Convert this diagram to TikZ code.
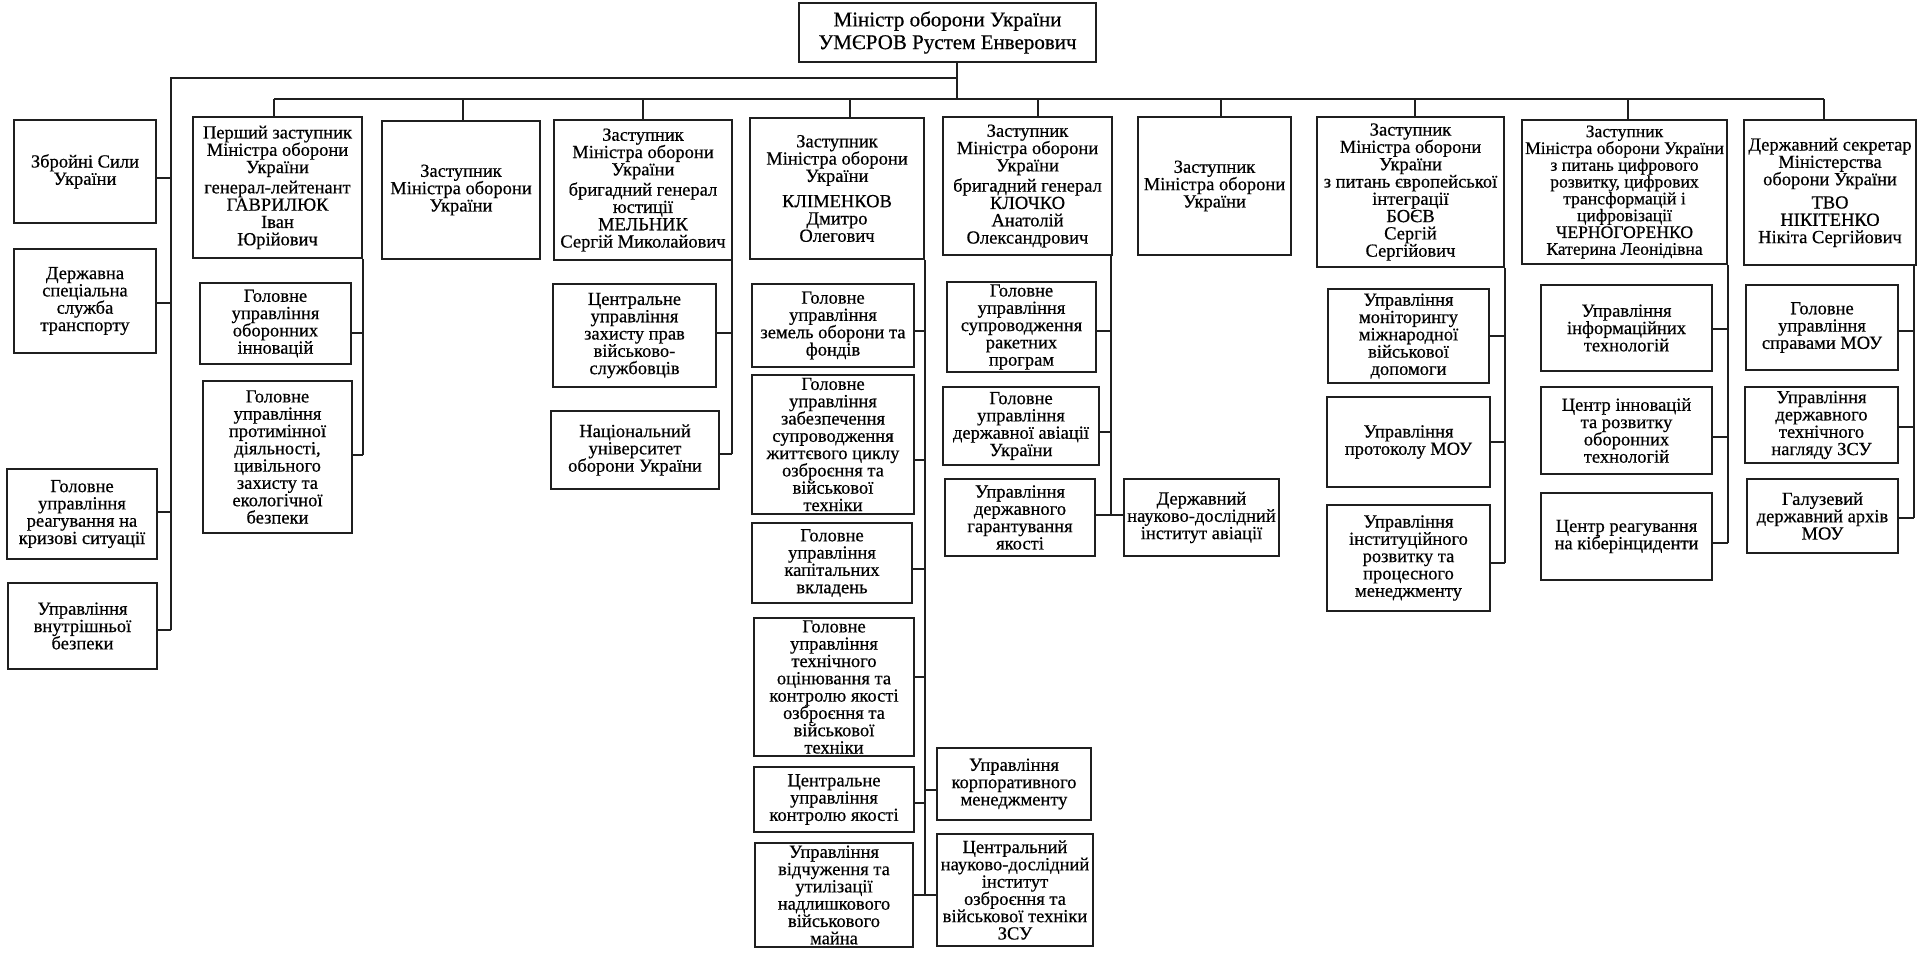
\documentclass[tikz,border=0pt]{standalone}
\usepackage{fontspec}
\setmainfont{Liberation Serif}[BoldFont={Liberation Serif},BoldFeatures={FakeBold=0.5}]
\begin{document}
\setlength{\lineskiplimit}{-40pt}%
\begin{tikzpicture}[x=1pt,y=-1pt,
  box/.style={draw=black!88, line width=1.5pt, align=center, inner sep=0pt,
    font=\fontsize{18.5}{17.3}\selectfont\bfseries},
  bigbox/.style={box, font=\fontsize{21}{22.7}\selectfont\bfseries},
  smallbox/.style={box, font=\fontsize{17.6}{16.8}\selectfont\bfseries},
  ln/.style={draw=black!88, line width=1.5pt}]
\useasboundingbox (0,0) rectangle (1920,953);

% ---------- top ----------
\node[bigbox, minimum width=297pt, minimum height=59pt] (min) at (947.5,32.5) {Міністр оборони України\\УМЄРОВ Рустем Енверович};

% ---------- left column ----------
\node[box, minimum width=142pt, minimum height=103pt] (zsu) at (85,171.5) {Збройні Сили\\України};
\node[box, minimum width=142pt, minimum height=104pt] (dsst) at (85,301) {Державна\\спеціальна\\служба\\транспорту};
\node[box, minimum width=150pt, minimum height=90pt] (kriz) at (82,514) {Головне\\управління\\реагування на\\кризові ситуації};
\node[box, minimum width=149pt, minimum height=86pt] (vnb) at (82.5,626) {Управління\\внутрішньої\\безпеки};

% ---------- deputies ----------
\node[box, minimum width=169pt, minimum height=141pt] (gavr) at (277.5,187.5) {Перший заступник\\Міністра оборони\\України\\[3pt]генерал-лейтенант\\ГАВРИЛЮК\\Іван\\Юрійович};
\node[box, minimum width=158pt, minimum height=138pt] (zast2) at (461,190) {Заступник\\Міністра оборони\\України};
\node[box, minimum width=178pt, minimum height=140pt] (meln) at (643,190) {Заступник\\Міністра оборони\\України\\[3pt]бригадний генерал\\юстиції\\МЕЛЬНИК\\Сергій Миколайович};
\node[box, minimum width=174pt, minimum height=141pt] (klim) at (837,188.5) {Заступник\\Міністра оборони\\України\\[8pt]КЛІМЕНКОВ\\Дмитро\\Олегович};
\node[box, minimum width=169pt, minimum height=138pt] (kloch) at (1027.5,186) {Заступник\\Міністра оборони\\України\\[3pt]бригадний генерал\\КЛОЧКО\\Анатолій\\Олександрович};
\node[box, minimum width=153pt, minimum height=138pt] (zast7) at (1214.5,186) {Заступник\\Міністра оборони\\України};
\node[box, minimum width=187pt, minimum height=150pt] (boev) at (1410.5,192) {Заступник\\Міністра оборони\\України\\з питань європейської\\інтеграції\\БОЄВ\\Сергій\\Сергійович};
\node[smallbox, minimum width=205pt, minimum height=144pt] (chern) at (1624.5,192) {Заступник\\Міністра оборони України\\з питань цифрового\\розвитку, цифрових\\трансформацій і\\цифровізації\\ЧЕРНОГОРЕНКО\\Катерина Леонідівна};
\node[box, minimum width=172pt, minimum height=145pt] (derzh) at (1830,192.5) {Державний секретар\\Міністерства\\оборони України\\[6pt]ТВО\\НІКІТЕНКО\\Нікіта Сергійович};

% ---------- Гаврилюк ----------
\node[box, minimum width=151pt, minimum height=81pt] (innov) at (275.5,323.5) {Головне\\управління\\оборонних\\інновацій};
\node[box, minimum width=149pt, minimum height=152pt] (protym) at (277.5,457) {Головне\\управління\\протимінної\\діяльності,\\цивільного\\захисту та\\екологічної\\безпеки};

% ---------- Мельник ----------
\node[box, minimum width=163pt, minimum height=103pt] (zpv) at (634.5,335.5) {Центральне\\управління\\захисту прав\\військово-\\службовців};
\node[box, minimum width=168pt, minimum height=78pt] (nuou) at (635,450) {Національний\\університет\\оборони України};

% ---------- Кліменков ----------
\node[box, minimum width=162pt, minimum height=83pt] (zem) at (833,325.5) {Головне\\управління\\земель оборони та\\фондів};
\node[box, minimum width=162pt, minimum height=139pt] (zabezp) at (833,444.5) {Головне\\управління\\забезпечення\\супроводження\\життєвого циклу\\озброєння та\\військової\\техніки};
\node[box, minimum width=160pt, minimum height=80pt] (kap) at (832,563) {Головне\\управління\\капітальних\\вкладень};
\node[box, minimum width=160pt, minimum height=138pt] (tekh) at (834,687) {Головне\\управління\\технічного\\оцінювання та\\контролю якості\\озброєння та\\військової\\техніки};
\node[box, minimum width=160pt, minimum height=65pt] (cuky) at (834,799.5) {Центральне\\управління\\контролю якості};
\node[box, minimum width=158pt, minimum height=104pt] (vidch) at (834,895) {Управління\\відчуження та\\утилізації\\надлишкового\\військового\\майна};
\node[box, minimum width=154pt, minimum height=72pt] (korp) at (1014,784) {Управління\\корпоративного\\менеджменту};
\node[box, minimum width=156pt, minimum height=112pt] (cndi) at (1015,890) {Центральний\\науково-дослідний\\інститут\\озброєння та\\військової техніки\\ЗСУ};

% ---------- Клочко ----------
\node[box, minimum width=149pt, minimum height=90pt] (raket) at (1021.5,327) {Головне\\управління\\супроводження\\ракетних\\програм};
\node[box, minimum width=156pt, minimum height=78pt] (dav) at (1021,426) {Головне\\управління\\державної авіації\\України};
\node[box, minimum width=150pt, minimum height=77pt] (gar) at (1020,517.5) {Управління\\державного\\гарантування\\якості};
\node[box, minimum width=155pt, minimum height=77pt] (ndiav) at (1201.5,517.5) {Державний\\науково-дослідний\\інститут авіації};

% ---------- Боєв ----------
\node[box, minimum width=161pt, minimum height=94pt] (monit) at (1408.5,336) {Управління\\моніторингу\\міжнародної\\військової\\допомоги};
\node[box, minimum width=163pt, minimum height=90pt] (prot) at (1408.5,442) {Управління\\протоколу МОУ};
\node[box, minimum width=163pt, minimum height=106pt] (inst) at (1408.5,558) {Управління\\інституційного\\розвитку та\\процесного\\менеджменту};

% ---------- Черногоренко ----------
\node[box, minimum width=171pt, minimum height=86pt] (infot) at (1626.5,328) {Управління\\інформаційних\\технологій};
\node[box, minimum width=171pt, minimum height=87pt] (cinnov) at (1626.5,430.5) {Центр інновацій\\та розвитку\\оборонних\\технологій};
\node[box, minimum width=171pt, minimum height=87pt] (ciber) at (1626.5,536.5) {Центр реагування\\на кіберінциденти};

% ---------- Нікітенко ----------
\node[box, minimum width=152pt, minimum height=85pt] (sprav) at (1822,327.5) {Головне\\управління\\справами МОУ};
\node[box, minimum width=153pt, minimum height=76pt] (nagl) at (1821.5,425) {Управління\\державного\\технічного\\нагляду ЗСУ};
\node[box, minimum width=151pt, minimum height=74pt] (arkh) at (1822.5,516) {Галузевий\\державний архів\\МОУ};

% ---------- main lines ----------
\coordinate (hub) at (957,99);
\coordinate (ltop) at (171,78);
\draw[ln] (min.south -| hub) -- (hub);
\draw[ln] (hub |- ltop) -- (ltop) -- ([yshift=-4pt]vnb.east -| ltop);
\draw[ln] ([xshift=-3.5pt]gavr.north |- hub) -- ([xshift=-6pt]derzh.north |- hub);

% left column branches
\draw[ln] ([yshift=-6.5pt]zsu.east) -- ([yshift=-6.5pt]zsu.east -| ltop);
\draw[ln] ([yshift=-2pt]dsst.east) -- ([yshift=-2pt]dsst.east -| ltop);
\draw[ln] ([yshift=2pt]kriz.east) -- ([yshift=2pt]kriz.east -| ltop);
\draw[ln] ([yshift=-4pt]vnb.east) -- ([yshift=-4pt]vnb.east -| ltop);

% stubs to deputies
\draw[ln] ([xshift=-3.5pt]gavr.north) -- ([xshift=-3.5pt]gavr.north |- hub);
\draw[ln] ([xshift=2pt]zast2.north) -- ([xshift=2pt]zast2.north |- hub);
\draw[ln] (meln.north) -- (meln.north |- hub);
\draw[ln] ([xshift=13pt]klim.north) -- ([xshift=13pt]klim.north |- hub);
\draw[ln] ([xshift=10.5pt]kloch.north) -- ([xshift=10.5pt]kloch.north |- hub);
\draw[ln] ([xshift=6.5pt]zast7.north) -- ([xshift=6.5pt]zast7.north |- hub);
\draw[ln] ([xshift=4.5pt]boev.north) -- ([xshift=4.5pt]boev.north |- hub);
\draw[ln] ([xshift=3.5pt]chern.north) -- ([xshift=3.5pt]chern.north |- hub);
\draw[ln] ([xshift=-6pt]derzh.north) -- ([xshift=-6pt]derzh.north |- hub);

% Гаврилюк bus
\draw[ln] (gavr.south east) -- ([yshift=2pt]protym.east -| gavr.south east);
\draw[ln] ([yshift=-9.5pt]innov.east) -- ([yshift=-9.5pt]innov.east -| gavr.south east);
\draw[ln] ([yshift=2pt]protym.east) -- ([yshift=2pt]protym.east -| gavr.south east);

% Мельник bus
\draw[ln] ([xshift=-1pt]meln.south east) -- ([xshift=-1pt,yshift=-4pt]nuou.east -| meln.south east);
\draw[ln] ([yshift=2.5pt]zpv.east) -- ([xshift=-1pt,yshift=2.5pt]zpv.east -| meln.south east);
\draw[ln] ([yshift=-4pt]nuou.east) -- ([xshift=-1pt,yshift=-4pt]nuou.east -| meln.south east);

% Кліменков bus
\draw[ln] (klim.south east) -- (vidch.east -| klim.south east);
\draw[ln] ([yshift=-5.5pt]zem.east) -- ([yshift=-5.5pt]zem.east -| klim.south east);
\draw[ln] ([yshift=-15.5pt]zabezp.east) -- ([yshift=-15.5pt]zabezp.east -| klim.south east);
\draw[ln] ([yshift=-6pt]kap.east) -- ([yshift=-6pt]kap.east -| klim.south east);
\draw[ln] ([yshift=10pt]tekh.east) -- ([yshift=10pt]tekh.east -| klim.south east);
\draw[ln] ([yshift=-3.5pt]cuky.east) -- ([yshift=-3.5pt]cuky.east -| klim.south east);
\draw[ln] ([yshift=-6pt]korp.west) -- ([yshift=-6pt]korp.west -| klim.south east);
\draw[ln] (vidch.east) -- (vidch.east -| cndi.west);

% Клочко bus
\draw[ln] ([xshift=-2pt]kloch.south east) -- ([xshift=-2pt,yshift=2.5pt]gar.east -| kloch.south east);
\draw[ln] ([yshift=-4pt]raket.east) -- ([xshift=-2pt,yshift=-4pt]raket.east -| kloch.south east);
\draw[ln] ([yshift=-6pt]dav.east) -- ([xshift=-2pt,yshift=-6pt]dav.east -| kloch.south east);
\draw[ln] ([yshift=2.5pt]gar.east) -- ([yshift=2.5pt]ndiav.west);

% Боєв bus
\draw[ln] (boev.south east) -- ([yshift=-5pt]inst.east -| boev.south east);
\draw[ln] (monit.east) -- (monit.east -| boev.south east);
\draw[ln] (prot.east) -- (prot.east -| boev.south east);
\draw[ln] ([yshift=-5pt]inst.east) -- ([yshift=-5pt]inst.east -| boev.south east);

% Черногоренко bus
\draw[ln] (chern.south east) -- ([yshift=-6.5pt]ciber.east -| chern.south east);
\draw[ln] ([yshift=-1pt]infot.east) -- ([yshift=-1pt]infot.east -| chern.south east);
\draw[ln] ([yshift=-6.5pt]cinnov.east) -- ([yshift=-6.5pt]cinnov.east -| chern.south east);
\draw[ln] ([yshift=-6.5pt]ciber.east) -- ([yshift=-6.5pt]ciber.east -| chern.south east);

% Нікітенко bus
\draw[ln] ([xshift=-3pt]derzh.south east) -- ([xshift=-3pt,yshift=-2pt]arkh.east -| derzh.south east);
\draw[ln] ([yshift=-3.5pt]sprav.east) -- ([xshift=-3pt,yshift=-3.5pt]sprav.east -| derzh.south east);
\draw[ln] ([yshift=-2pt]nagl.east) -- ([xshift=-3pt,yshift=-2pt]nagl.east -| derzh.south east);
\draw[ln] ([yshift=-2pt]arkh.east) -- ([xshift=-3pt,yshift=-2pt]arkh.east -| derzh.south east);
\end{tikzpicture}
\end{document}
